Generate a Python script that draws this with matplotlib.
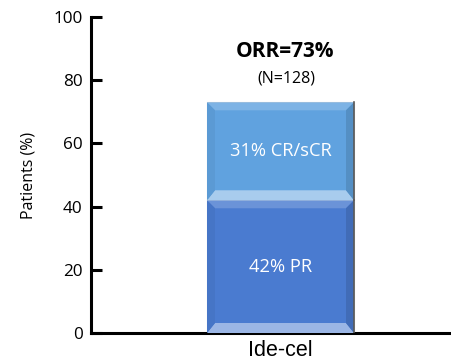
import numpy as np
import matplotlib.pyplot as plt
from matplotlib.patches import Polygon

plt.rcParams['font.family'] = ['Open Sans', 'DejaVu Sans']

# data
category = "Ide-cel"
segments = ["PR", "CR/sCR"]
values = [42, 31]
seg_labels = ["42% PR", "31% CR/sCR"]
colors = ["#4a7bd0", "#60a2df"]
orr = 73
n_pat = 128
yticks = [0, 20, 40, 60, 80, 100]


def bevel(ax, x0, x1, y0, y1, base, bw_px=8, bb_px=10):
    # fake the bevel look of the office chart with four trapezoids
    inv = ax.transData.inverted()
    p0 = ax.transData.transform((x0, y0))
    dx = abs(inv.transform((p0[0] + bw_px, p0[1]))[0] - x0)
    dy = abs(inv.transform((p0[0], p0[1] + bw_px))[1] - y0)
    db = abs(inv.transform((p0[0], p0[1] + bb_px))[1] - y0)
    c = np.array(plt.matplotlib.colors.to_rgb(base))
    light = c + (1 - c) * 0.18
    lighter = c + (1 - c) * 0.45
    dark = c * 0.88
    top = [(x0, y1), (x1, y1), (x1 - dx, y1 - dy), (x0 + dx, y1 - dy)]
    bot = [(x0, y0), (x1, y0), (x1 - dx, y0 + db), (x0 + dx, y0 + db)]
    left = [(x0, y0), (x0, y1), (x0 + dx, y1 - dy), (x0 + dx, y0 + db)]
    right = [(x1, y0), (x1, y1), (x1 - dx, y1 - dy), (x1 - dx, y0 + db)]
    for pts, col in [(top, light), (bot, lighter), (left, c * 0.95), (right, dark)]:
        ax.add_patch(Polygon(pts, closed=True, facecolor=col, edgecolor='none', zorder=3))
    ax.plot([x1, x1], [y0, y1], color='#5a5a5a', lw=1.2, zorder=4)


fig = plt.figure(figsize=(4.52, 3.64), dpi=100)
ax = fig.add_axes([91 / 452, 31 / 364, 361 / 452, 316 / 364])

w = 0.6
ax.set_xlim(-w * 189.5 / 147, w * 171.5 / 147)
ax.set_ylim(0, 100)

bottom = 0
for v, col, lab in zip(values, colors, seg_labels):
    ax.bar(0, v, width=w, bottom=bottom, color=col, edgecolor='#d0d0d0', linewidth=0.8, zorder=2)
    bevel(ax, -w / 2, w / 2, bottom, bottom + v, col)
    ax.text(0, bottom + v / 2, lab, ha='center', va='center', color='white', fontsize=13.2, zorder=5)
    bottom += v

ax.text(0.02, orr + 16, "ORR=%d%%" % orr, ha='center', va='center', fontsize=15, fontweight='bold')
ax.text(0.025, orr + 7.4, "(N=%d)" % n_pat, ha='center', va='center', fontsize=11.5)

for s in ['top', 'right']:
    ax.spines[s].set_visible(False)
ax.spines['left'].set_linewidth(2.2)
ax.spines['bottom'].set_linewidth(2.2)
ax.set_yticks(yticks)
ax.tick_params(axis='y', direction='in', length=8, width=2.2, labelsize=12.3, pad=6)
ax.set_xticks([0])
ax.set_xticklabels([category], fontsize=15.5, family='Liberation Sans')
ax.tick_params(axis='x', length=0, pad=5)
ax.set_ylabel("Patients (%)", fontsize=11.5, labelpad=12)

fig.savefig("out.png", dpi=100)
